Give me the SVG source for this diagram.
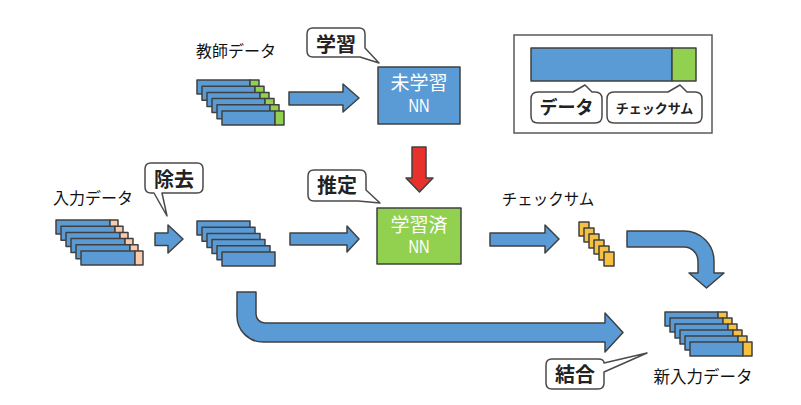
<svg xmlns="http://www.w3.org/2000/svg" xmlns:xlink="http://www.w3.org/1999/xlink" width="801" height="405" viewBox="0 0 801 405">
<style>
.sh{stroke:#404040;stroke-width:1.5;stroke-linejoin:round}
.blue{fill:#5B9BD5}
.green{fill:#92D050}
.peach{fill:#F8CBAD}
.gold{fill:#F6C143}
.red{fill:#E8312B}
.call{fill:#fff;stroke:#4a4a4a;stroke-width:1.5;stroke-linejoin:round}
.lbl{font-family:"Noto Sans CJK JP","Noto Sans",sans-serif;font-size:16px;fill:#111;text-anchor:middle}
.ct{font-family:"Noto Sans CJK JP","Noto Sans",sans-serif;font-size:20px;font-weight:bold;fill:#222;text-anchor:middle}
.nn{font-family:"Noto Sans CJK JP","Noto Sans",sans-serif;font-size:19px;fill:#fff;text-anchor:middle}
.nl{font-family:"Liberation Sans",Arial,sans-serif;font-size:18px;fill:#fff;text-anchor:middle}
</style>
<defs>
<g id="barG"><rect class="sh blue" x="0" y="0" width="53" height="14"/><rect class="sh green" x="53" y="0" width="9" height="14"/></g>
<g id="barP"><rect class="sh blue" x="0" y="0" width="54" height="14"/><rect class="sh peach" x="54" y="0" width="8" height="14"/></g>
<g id="barB"><rect class="sh blue" x="0" y="0" width="53" height="14"/></g>
<g id="barO"><rect class="sh blue" x="0" y="0" width="53" height="14"/><rect class="sh gold" x="53" y="0" width="9" height="14"/></g>
<rect id="cs" class="sh gold" x="0" y="0" width="10" height="14"/>
</defs>
<rect width="801" height="405" fill="#fff"/>

<g id="teacher-data">
<text class="lbl" x="236" y="57">教師データ</text>
<use xlink:href="#barG" x="197" y="80"/>
<use xlink:href="#barG" x="202" y="86.2"/>
<use xlink:href="#barG" x="207" y="92.4"/>
<use xlink:href="#barG" x="212" y="98.6"/>
<use xlink:href="#barG" x="217" y="104.8"/>
<use xlink:href="#barG" x="222" y="111"/>
</g>

<g id="callout-learn">
<path class="call" d="M313,28 H359 Q365,28 365,34 V48 L379,63 L360,57 H313 Q307,57 307,51 V34 Q307,28 313,28 Z"/>
<text class="ct" x="336" y="52">学習</text>
</g>

<g id="untrained-nn">
<rect class="sh blue" x="378" y="67" width="82" height="57"/>
<text class="nn" x="419" y="89.5">未学習</text>
<text class="nl" x="419" y="112" textLength="21" lengthAdjust="spacingAndGlyphs">NN</text>
</g>

<g id="legend">
<rect x="514" y="35" width="198" height="98" fill="#fff" stroke="#595959" stroke-width="1.5"/>
<rect class="sh blue" x="531" y="48" width="141" height="33"/>
<rect class="sh green" x="672" y="48" width="24" height="33"/>
<path class="call" d="M538,92 H573 L585,85 L592,92 H595 Q602,92 602,99 V116 Q602,123 595,123 H538 Q531,123 531,116 V99 Q531,92 538,92 Z"/>
<text class="ct" style="font-size:18px" x="566.5" y="114">データ</text>
<path class="call" d="M614,92 H668 L680,85 L687,92 H695 Q702,92 702,99 V116 Q702,123 695,123 H614 Q607,123 607,116 V99 Q607,92 614,92 Z"/>
<text class="ct" style="font-size:13px" x="654.5" y="112.5">チェックサム</text>
</g>

<g id="input-data">
<text class="lbl" x="93" y="204">入力データ</text>
<use xlink:href="#barP" x="56" y="220"/>
<use xlink:href="#barP" x="61" y="226.2"/>
<use xlink:href="#barP" x="66" y="232.4"/>
<use xlink:href="#barP" x="71" y="238.6"/>
<use xlink:href="#barP" x="76" y="244.8"/>
<use xlink:href="#barP" x="81" y="251"/>
</g>

<g id="callout-remove">
<path class="call" d="M151,163 H197 Q203,163 203,169 V187 Q203,193 197,193 H162 L167,216 L154,193 H151 Q145,193 145,187 V169 Q145,163 151,163 Z"/>
<text class="ct" x="174" y="187">除去</text>
</g>

<g id="stripped-data">
<use xlink:href="#barB" x="197" y="221"/>
<use xlink:href="#barB" x="202" y="227.2"/>
<use xlink:href="#barB" x="207" y="233.4"/>
<use xlink:href="#barB" x="212" y="239.6"/>
<use xlink:href="#barB" x="217" y="245.8"/>
<use xlink:href="#barB" x="222" y="252"/>
</g>

<g id="callout-infer">
<path class="call" d="M314,170 H360 Q366,170 366,176 V190 L380,203 L358,201 H314 Q308,201 308,195 V176 Q308,170 314,170 Z"/>
<text class="ct" x="337" y="193">推定</text>
</g>

<g id="trained-nn">
<rect class="sh green" x="377" y="208" width="84" height="56"/>
<text class="nn" x="419" y="231.5">学習済</text>
<text class="nl" x="419" y="252.5" textLength="21" lengthAdjust="spacingAndGlyphs">NN</text>
</g>

<g id="checksum">
<text class="lbl" style="font-size:15.5px" x="548" y="205">チェックサム</text>
<use xlink:href="#cs" x="579" y="222"/>
<use xlink:href="#cs" x="584" y="228"/>
<use xlink:href="#cs" x="589" y="234"/>
<use xlink:href="#cs" x="594" y="240"/>
<use xlink:href="#cs" x="599" y="246"/>
<use xlink:href="#cs" x="604" y="252"/>
</g>

<g id="new-input-data">
<use xlink:href="#barO" x="665" y="312"/>
<use xlink:href="#barO" x="670" y="318"/>
<use xlink:href="#barO" x="675" y="324"/>
<use xlink:href="#barO" x="680" y="330"/>
<use xlink:href="#barO" x="685" y="336"/>
<use xlink:href="#barO" x="690" y="342"/>
<text class="lbl" style="font-size:16.5px" x="703" y="383">新入力データ</text>
</g>

<g id="callout-join">
<path class="call" d="M552,359 H598 Q604,359 604,363 L647,353 L604,372 V383 Q604,389 598,389 H552 Q546,389 546,383 V365 Q546,359 552,359 Z"/>
<text class="ct" x="575" y="382">結合</text>
</g>

<g id="connectors">
<path class="sh blue" d="M289,92 H343 V84 L359,98 L343,112 V105 H289 Z"/>
<path class="sh red" d="M412,147 H426 V178 H433 L419.5,192 L406,178 H412 Z"/>
<path class="sh blue" d="M155,233 H168 V225 L183,239 L168,253 V245.5 H155 Z"/>
<path class="sh blue" d="M290,233 H347 V226 L359,239 L347,252 V245 H290 Z"/>
<path class="sh blue" d="M490,233 H545 V225 L559,239 L545,253 V246 H490 Z"/>
<path class="sh blue" d="M627,231 H684 A30 30 0 0 1 714 261 V273 H724 L706.5 288 L689 273 H698 V261 A14 14 0 0 0 684 247 H627 Z"/>
<path class="sh blue" d="M237,292 H256 V314 A9 9 0 0 0 265 323 H605 V313 L623 332.5 L605 352 V342 H263 A26 26 0 0 1 237 316 Z"/>
</g>
</svg>
